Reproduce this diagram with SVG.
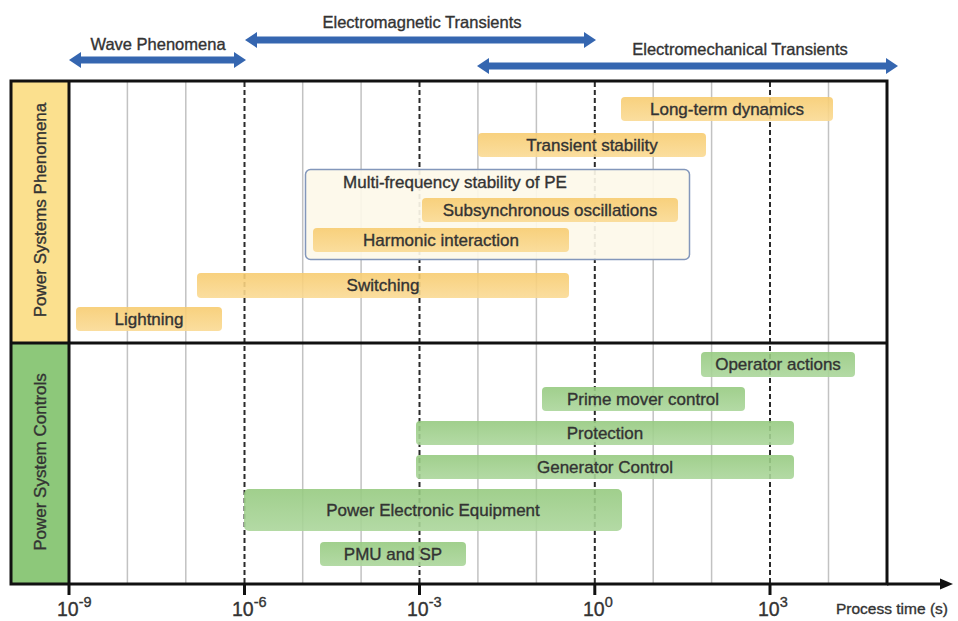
<svg xmlns="http://www.w3.org/2000/svg" width="958" height="621" viewBox="0 0 958 621">
<style>
text{font-family:"Liberation Sans",Arial,sans-serif;fill:#333;stroke:#333;stroke-width:0.35}
.lbl{font-size:17px;text-anchor:middle}
.top{font-size:16.5px;text-anchor:middle}
.side{font-size:17px;text-anchor:middle}
.tick{font-size:19.5px}
.grid{stroke:#c2c2c2;stroke-width:1.5}
.dash{stroke:#2a2a2a;stroke-width:2;stroke-dasharray:5 3}
.ybar{fill:url(#yg);opacity:0.9}
.gbar{fill:url(#gg);opacity:0.9}
.span{fill:#3566b0}
.frame{fill:none;stroke:#111;stroke-width:3}
</style>
<defs>
<linearGradient id="yg" x1="0" y1="0" x2="0" y2="1">
<stop offset="0" stop-color="#f7cc70"/>
<stop offset="1" stop-color="#fada94"/>
</linearGradient>
<linearGradient id="gg" x1="0" y1="0" x2="0" y2="1">
<stop offset="0" stop-color="#96ca80"/>
<stop offset="1" stop-color="#abd69b"/>
</linearGradient>
</defs>
<rect width="958" height="621" fill="#fff"/>
<g id="phenomena-label">
<rect x="11" y="81" width="58" height="262" fill="#fbe08e"/>
<text class="side" transform="translate(46,210) rotate(-90)">Power Systems Phenomena</text>
</g>
<g id="controls-label">
<rect x="11" y="343" width="58" height="241" fill="#8dc87a"/>
<text class="side" transform="translate(46,462) rotate(-90)">Power System Controls</text>
</g>
<g id="grid">
<line class="grid" x1="127.4" y1="81" x2="127.4" y2="584"/>
<line class="grid" x1="185.8" y1="81" x2="185.8" y2="584"/>
<line class="grid" x1="302.7" y1="81" x2="302.7" y2="584"/>
<line class="grid" x1="361.1" y1="81" x2="361.1" y2="584"/>
<line class="grid" x1="477.9" y1="81" x2="477.9" y2="584"/>
<line class="grid" x1="536.4" y1="81" x2="536.4" y2="584"/>
<line class="grid" x1="653.2" y1="81" x2="653.2" y2="584"/>
<line class="grid" x1="711.6" y1="81" x2="711.6" y2="584"/>
<line class="grid" x1="828.5" y1="81" x2="828.5" y2="584"/>
<line class="dash" x1="244.5" y1="82" x2="244.5" y2="584"/>
<line class="dash" x1="419.5" y1="82" x2="419.5" y2="584"/>
<line class="dash" x1="594.8" y1="82" x2="594.8" y2="584"/>
<line class="dash" x1="770" y1="82" x2="770" y2="584"/>
</g>
<g id="long-term-dynamics"><rect class="ybar" x="621" y="97" width="212" height="24" rx="4"/><text class="lbl" x="727" y="115">Long-term dynamics</text></g>
<g id="transient-stability"><rect class="ybar" x="478" y="133" width="228" height="24" rx="4"/><text class="lbl" x="592" y="151">Transient stability</text></g>
<g id="multi-frequency">
<rect x="305.5" y="169.5" width="384" height="90" rx="5" fill="#fdf8e9" fill-opacity="0.92" stroke="#8397bb" stroke-width="1.5"/>
<text class="lbl" x="455" y="188">Multi-frequency stability of PE</text>
</g>
<g id="subsynchronous-oscillations"><rect class="ybar" x="422" y="198" width="256" height="24" rx="4"/><text class="lbl" x="550" y="216">Subsynchronous oscillations</text></g>
<g id="harmonic-interaction"><rect class="ybar" x="313" y="228" width="256" height="24" rx="4"/><text class="lbl" x="441" y="246">Harmonic interaction</text></g>
<g id="switching"><rect class="ybar" x="197" y="273" width="372" height="25" rx="4"/><text class="lbl" x="383" y="291">Switching</text></g>
<g id="lightning"><rect class="ybar" x="76" y="307" width="146" height="24" rx="4"/><text class="lbl" x="149" y="325">Lightning</text></g>
<g id="operator-actions"><rect class="gbar" x="701" y="352" width="154" height="25" rx="4"/><text class="lbl" x="778" y="370">Operator actions</text></g>
<g id="prime-mover-control"><rect class="gbar" x="542" y="387" width="203" height="24" rx="4"/><text class="lbl" x="643" y="405">Prime mover control</text></g>
<g id="protection"><rect class="gbar" x="416" y="421" width="378" height="24" rx="4"/><text class="lbl" x="605" y="439">Protection</text></g>
<g id="generator-control"><rect class="gbar" x="416" y="455" width="378" height="24" rx="4"/><text class="lbl" x="605" y="473">Generator Control</text></g>
<g id="power-electronic-equipment"><rect class="gbar" x="244" y="489" width="378" height="42" rx="5"/><text class="lbl" x="433" y="516">Power Electronic Equipment</text></g>
<g id="pmu-and-sp"><rect class="gbar" x="320" y="542" width="146" height="24" rx="4"/><text class="lbl" x="393" y="560">PMU and SP</text></g>
<g id="frame">
<rect class="frame" x="11" y="81" width="876" height="503"/>
<line x1="69" y1="81" x2="69" y2="584" stroke="#111" stroke-width="3"/>
<line x1="11" y1="343" x2="887" y2="343" stroke="#111" stroke-width="3"/>
</g>
<g id="axis">
<line x1="887" y1="584" x2="942" y2="584" stroke="#111" stroke-width="3"/>
<polygon points="953,584 940,578.5 940,589.5" fill="#111"/>
<line x1="69" y1="584" x2="69" y2="595" stroke="#111" stroke-width="3"/>
<line x1="244.5" y1="584" x2="244.5" y2="595" stroke="#111" stroke-width="3"/>
<line x1="419.5" y1="584" x2="419.5" y2="595" stroke="#111" stroke-width="3"/>
<line x1="594.8" y1="584" x2="594.8" y2="595" stroke="#111" stroke-width="3"/>
<line x1="770" y1="584" x2="770" y2="595" stroke="#111" stroke-width="3"/>
<text class="tick" x="57" y="616">10<tspan dy="-9" font-size="14.5">-9</tspan></text>
<text class="tick" x="232" y="616">10<tspan dy="-9" font-size="14.5">-6</tspan></text>
<text class="tick" x="407" y="616">10<tspan dy="-9" font-size="14.5">-3</tspan></text>
<text class="tick" x="583" y="616">10<tspan dy="-9" font-size="14.5">0</tspan></text>
<text class="tick" x="758" y="616">10<tspan dy="-9" font-size="14.5">3</tspan></text>
<text x="836" y="614" font-size="15.5">Process time (s)</text>
</g>
<g id="connectors">
<polygon class="span" points="69,60 81,52 81,56.5 234,56.5 234,52 246,60 234,68 234,63.5 81,63.5 81,68"/>
<polygon class="span" points="245,40 257,32 257,36.5 584,36.5 584,32 596,40 584,48 584,43.5 257,43.5 257,48"/>
<polygon class="span" points="477,66 489,58 489,62.5 886,62.5 886,58 898,66 886,74 886,69.5 489,69.5 489,74"/>
</g>
<g id="wave-phenomena"><text class="top" x="158" y="50">Wave Phenomena</text></g>
<g id="electromagnetic-transients"><text class="top" x="422" y="28">Electromagnetic Transients</text></g>
<g id="electromechanical-transients"><text class="top" x="740" y="55">Electromechanical Transients</text></g>
</svg>
